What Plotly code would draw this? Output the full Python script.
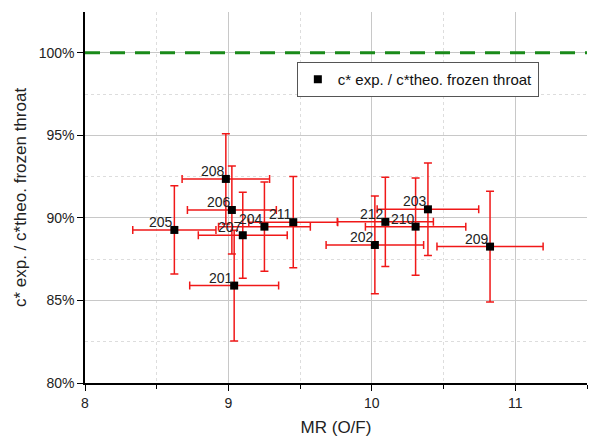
import plotly.graph_objects as go

tests = ["201", "202", "203", "204", "205", "206", "207", "208", "209", "210", "211", "212"]
mr = [9.040, 10.021, 10.391, 9.251, 8.623, 9.024, 9.100, 8.982, 10.824, 10.305, 9.452, 10.094]
eff = [85.90, 88.36, 90.52, 89.47, 89.27, 90.48, 88.95, 92.36, 88.26, 89.47, 89.74, 89.76]
mr_err = [0.31, 0.34, 0.354, 0.32, 0.29, 0.31, 0.31, 0.305, 0.37, 0.35, 0.31, 0.335]
eff_err = [3.35, 2.96, 2.8, 2.7, 2.67, 2.67, 2.6, 2.73, 3.35, 2.95, 2.76, 2.7]
ref_line = 100
y_ticks = [80, 85, 90, 95, 100]
y_ticktext = ["80%", "85%", "90%", "95%", "100%"]
x_ticks = [8, 9, 10, 11]

FONT = "Liberation Sans, Arial, sans-serif"
RED = "#f01818"

fig = go.Figure()
fig.add_hline(y=ref_line, line=dict(color="#1a8a1a", width=3, dash="15px,10px"), layer="above")

fig.add_trace(go.Scatter(
    x=mr, y=eff, mode="markers",
    marker=dict(symbol="square", size=8, color="black"),
    error_x=dict(type="data", array=mr_err, color=RED, thickness=1.5, width=4),
    error_y=dict(type="data", array=eff_err, color=RED, thickness=1.5, width=4),
    name="c* exp. / c*theo. frozen throat", showlegend=True,
))

for t, xv, yv in zip(tests, mr, eff):
    fig.add_annotation(x=xv, y=yv, text=t, showarrow=False, xanchor="right", yanchor="middle",
                       xshift=1, yshift=8, font=dict(family=FONT, size=14, color="#222"))

# page body has an 8px margin, so the figure is sized to fit the 603x442 window
fig.update_layout(
    width=595, height=434,
    margin=dict(l=77, r=16, t=4, b=59, autoexpand=False),
    paper_bgcolor="white", plot_bgcolor="white",
    font=dict(family=FONT, size=13, color="#222"),
    showlegend=True,
    legend=dict(x=0.422, y=0.865, xanchor="left", yanchor="top",
                bgcolor="white", bordercolor="#555", borderwidth=1,
                font=dict(family=FONT, size=15, color="#111"),
                itemwidth=30, tracegroupgap=0),
)
fig.update_xaxes(
    range=[8, 11.5], tickvals=x_ticks, showline=True, linecolor="black", linewidth=1.5,
    ticks="outside", ticklen=6, tickcolor="black", zeroline=False, automargin=False,
    showgrid=True, gridcolor="#c8c8c8", gridwidth=1,
    minor=dict(dtick=0.5, ticks="outside", ticklen=4, tickcolor="black",
               showgrid=True, gridcolor="#dddddd", griddash="dot"),
    tickfont=dict(size=14),
    title=dict(text="MR (O/F)", font=dict(size=17), standoff=12),
)
fig.update_yaxes(
    range=[80, 102.47], tickvals=y_ticks, ticktext=y_ticktext, showline=True, linecolor="black", linewidth=1.5,
    ticks="outside", ticklen=6, tickcolor="black", zeroline=False, automargin=False,
    showgrid=True, gridcolor="#c8c8c8", gridwidth=1,
    minor=dict(dtick=2.5, ticks="", showgrid=True, gridcolor="#dddddd", griddash="dot"),
    tickfont=dict(size=14),
    title=dict(text="c* exp. / c*theo. frozen throat", font=dict(size=17), standoff=8),
)
fig.write_html("out.html")
